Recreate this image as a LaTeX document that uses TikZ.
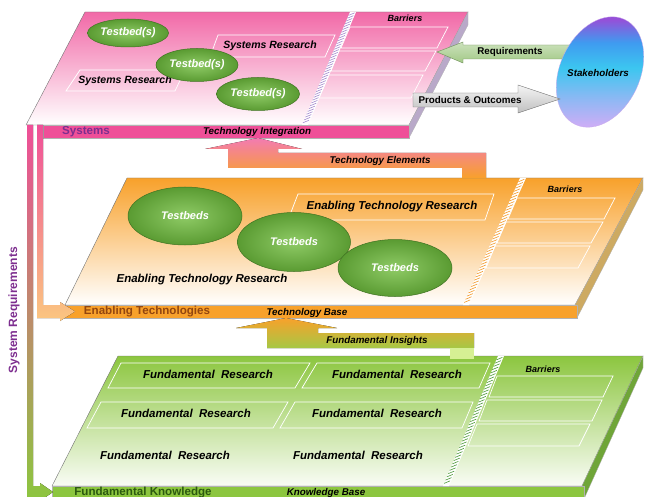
\documentclass[tikz,border=0pt]{standalone}
\usepackage{fontspec}
\setmainfont{Liberation Sans}
\usetikzlibrary{calc,shapes.geometric}

\definecolor{sysPink}{HTML}{EF4F98}
\definecolor{sysSide}{HTML}{B9A9C9}
\definecolor{sysHatch}{HTML}{A48ACF}
\definecolor{enaOrange}{HTML}{F8A12B}
\definecolor{enaLight}{HTML}{FBC680}
\definecolor{enaSide}{HTML}{CDAA62}
\definecolor{enaHatch}{HTML}{F39A2A}
\definecolor{enaText}{HTML}{93460F}
\definecolor{funGreen}{HTML}{8CC63F}
\definecolor{funSide}{HTML}{6FA538}
\definecolor{funHatch}{HTML}{4E9A3A}
\definecolor{funText}{HTML}{2C5A10}
\definecolor{insGreen}{HTML}{A6C845}
\definecolor{insTab}{HTML}{D6F094}
\definecolor{reqTan}{HTML}{DDA27E}
\definecolor{reqPurple}{HTML}{7D2E8F}
\definecolor{reqGreen}{HTML}{A2C986}
\definecolor{reqEdge}{HTML}{6F8F5A}
\definecolor{tbGreen}{HTML}{5A9B32}
\definecolor{tbLight}{HTML}{8FCB66}
\definecolor{tbDark}{HTML}{3F7322}
\definecolor{stakePurple}{HTML}{9550D8}
\definecolor{stakeBlue}{HTML}{3F9BF0}
\definecolor{stakeCyan}{HTML}{3CC6F0}
\definecolor{stakeLav}{HTML}{C9AEF6}

\pgfdeclareverticalshading{stakeshade}{100bp}{color(0bp)=(stakeLav); color(25bp)=(stakeLav);
	color(38bp)=(stakeLav!55!stakeCyan); color(52bp)=(stakeCyan); color(64bp)=(stakeBlue);
	color(75bp)=(stakePurple); color(100bp)=(stakePurple)}

\begin{document}
\begin{tikzpicture}[x=1pt,y=-1pt,
	face/.style={draw=black!55,line width=.4pt},
	band/.style={draw=black!30,line width=.3pt},
	side/.style={draw=black!30,line width=.3pt},
	row/.style={draw=white,line width=.7pt},
	hatch/.style={line width=.6pt},
	testbed/.style={ellipse,draw=tbDark,line width=.5pt,inner color=tbLight,outer color=tbGreen,
		text=white,font=\fontsize{11}{13}\selectfont\bfseries\itshape,inner sep=0pt},
	research/.style={font=\fontsize{11.5}{13}\selectfont\bfseries\itshape},
	barrier/.style={font=\fontsize{9}{10}\selectfont\bfseries\itshape},
	bandtext/.style={font=\fontsize{11.6}{13}\selectfont\bfseries},
	flowtext/.style={font=\fontsize{9.8}{11}\selectfont\bfseries\itshape},
	arrowtext/.style={font=\fontsize{9.8}{11}\selectfont\bfseries}
	]
	\useasboundingbox (0,0) rectangle (645,497);

	% systems plate
	\coordinate (sysTL) at (85,12);
	\coordinate (sysTR) at (468,12);
	\coordinate (sysBR) at (409,125);
	\coordinate (sysBL) at (26,125);
	\draw[face,top color=sysPink!85,middle color=sysPink!22,bottom color=white] (sysTL) -- (sysTR) -- (sysBR) -- (sysBL) -- cycle;
	\draw[side,fill=sysSide] (sysBR) -- (sysTR) -- (468,25) -- (409,138) -- cycle;
	\draw[band,fill=sysPink] (43,125) rectangle (409,138);
	\fill[white] (350,12) -- (356,12) -- (308,125) -- (302,125) -- cycle;
	\foreach \t in {0.03,0.055,...,1}
		\draw[hatch,sysHatch] ($(350,12)!\t!(302,125)$) -- ++(6,-2.5);
	\draw[row] (350,27) -- (448,27) -- (437,48) -- (341,48) -- cycle;
	\draw[row] (339,51) -- (436,51) -- (425,71) -- (331,71) -- cycle;
	\draw[row] (329,75) -- (423,75) -- (411,98) -- (319,98) -- cycle;
	\node[barrier] (sysBar) at (405,18) {Barriers};
	\draw[row] (218,35) -- (335,35) -- (325,57) -- (210,57) -- cycle;
	\draw[row] (80,70) -- (185,70) -- (175,91) -- (66,91) -- cycle;
	\node[research,font=\fontsize{10.5}{12}\selectfont\bfseries\itshape] (sysRes1) at (270,46) {Systems Research};
	\node[research,font=\fontsize{10.5}{12}\selectfont\bfseries\itshape] (sysRes2) at (125,81) {Systems Research};
	\node[testbed,minimum width=81pt,minimum height=28pt] (tbA) at (128,33) {Testbed(s)};
	\node[testbed,minimum width=82pt,minimum height=33pt] (tbB) at (197,65) {Testbed(s)};
	\node[testbed,minimum width=83pt,minimum height=33pt] (tbC) at (258,94) {Testbed(s)};
	\node[bandtext,text=reqPurple] (sysName) at (86,131.5) {Systems};
	\node[flowtext] (sysInt) at (257,131.5) {Technology Integration};

	% enabling technologies plate
	\coordinate (enaTL) at (127,178);
	\coordinate (enaTR) at (643,178);
	\coordinate (enaBR) at (575,305);
	\coordinate (enaBL) at (65,305);
	\draw[face,top color=enaOrange,middle color=enaOrange!28,bottom color=white] (enaTL) -- (enaTR) -- (enaBR) -- (enaBL) -- cycle;
	\draw[side,fill=enaSide] (enaBR) -- (enaTR) -- (643,190) -- (577,318) -- cycle;
	\draw[band,fill=enaOrange] (60,305) rectangle (577,318);
	\fill[white] (520,178) -- (526,178) -- (469,305) -- (463,305) -- cycle;
	\foreach \t in {0.03,0.055,...,1}
		\draw[hatch,enaHatch] ($(520,178)!\t!(463,305)$) -- ++(6,-2.5);
	\draw[row] (517,198) -- (615,198) -- (604,219) -- (508,219) -- cycle;
	\draw[row] (506,222) -- (603,222) -- (591,243) -- (497,243) -- cycle;
	\draw[row] (495,246) -- (590,246) -- (578,268) -- (486,268) -- cycle;
	\node[barrier] (enaBar) at (565,189) {Barriers};
	\draw[row] (298,194) -- (494,194) -- (485,220) -- (288,220) -- cycle;
	\node[research] (enaRes1) at (392,207) {Enabling Technology Research};
	\node[research] (enaRes2) at (202,280) {Enabling Technology Research};
	\node[testbed,minimum width=114pt,minimum height=58pt] (tbD) at (185,216) {Testbeds};
	\node[testbed,minimum width=113pt,minimum height=59pt] (tbE) at (294,242) {Testbeds};
	\node[testbed,minimum width=114pt,minimum height=57pt] (tbF) at (395,268) {Testbeds};
	\node[bandtext,text=enaText] (enaName) at (147,312) {Enabling Technologies};
	\node[flowtext] (enaBase) at (307,312.5) {Technology Base};

	% fundamental knowledge plate
	\coordinate (funTL) at (118,356);
	\coordinate (funTR) at (643,356);
	\coordinate (funBR) at (582,486);
	\coordinate (funBL) at (52,486);
	\draw[face,top color=funGreen,middle color=funGreen!35,bottom color=funGreen!5] (funTL) -- (funTR) -- (funBR) -- (funBL) -- cycle;
	\draw[side,fill=funSide] (funBR) -- (funTR) -- (643,368) -- (584,499) -- cycle;
	\draw[band,fill=funGreen] (52,486) rectangle (584,499);
	\fill[white] (498,356) -- (504,356) -- (449,486) -- (443,486) -- cycle;
	\foreach \t in {0.03,0.055,...,1}
		\draw[hatch,funHatch] ($(498,356)!\t!(443,486)$) -- ++(6,-2.5);
	\draw[row] (497,376) -- (613,376) -- (603,397) -- (489,397) -- cycle;
	\draw[row] (487,400) -- (602,400) -- (592,421) -- (479,421) -- cycle;
	\draw[row] (477,424) -- (590,424) -- (579,446) -- (468,446) -- cycle;
	\node[barrier] (funBar) at (543,369) {Barriers};
	\draw[row] (121,363) -- (310,363) -- (295,388) -- (108,388) -- cycle;
	\draw[row] (317,363) -- (490,363) -- (479,388) -- (302,388) -- cycle;
	\draw[row] (101,402) -- (288,402) -- (273,428) -- (87,428) -- cycle;
	\draw[row] (295,402) -- (473,402) -- (462,428) -- (280,428) -- cycle;
	\node[research] (funResA) at (208,374) {Fundamental\ \ Research};
	\node[research] (funResB) at (397,374) {Fundamental\ \ Research};
	\node[research] (funResC) at (186,413) {Fundamental\ \ Research};
	\node[research] (funResD) at (377,413) {Fundamental\ \ Research};
	\node[research] (funResE) at (165,455) {Fundamental\ \ Research};
	\node[research] (funResF) at (358,455) {Fundamental\ \ Research};
	\node[bandtext,text=funText] (funName) at (143,493) {Fundamental Knowledge};
	\node[flowtext] (funBase) at (326,493) {Knowledge Base};

	% system requirements bars
	\fill[top color=sysPink,middle color=reqTan,bottom color=funGreen]
		(27,125) -- (33,125) -- (33,486) -- (40,486) -- (40,483) -- (53,492) -- (40,501) -- (40,499) -- (27,499) -- cycle;
	\fill[top color=sysPink,bottom color=enaLight]
		(37,125) -- (43,125) -- (43,305) -- (60,305) -- (60,302) -- (75,311.5) -- (60,321) -- (60,318) -- (37,318) -- cycle;
	\node[bandtext,text=reqPurple,rotate=90,font=\fontsize{12}{14}\selectfont\bfseries] (sysReq) at (14,310) {System Requirements};

	% flows between the plates
	\fill[top color=sysPink!75,bottom color=enaOrange]
		(258,138) -- (302,149) -- (278,149) -- (278,153) -- (486,153) -- (486,178) -- (462,178) -- (462,168) -- (228,168) -- (228,149) -- (205,149) -- cycle;
	\node[flowtext] (techEl) at (380,160.5) {Technology Elements};
	\fill[top color=enaOrange,bottom color=insGreen]
		(286,318) -- (337,328) -- (318,328) -- (318,333) -- (474,333) -- (474,348) -- (267,348) -- (267,328) -- (236,328) -- cycle;
	\fill[insTab] (450,348) rectangle (474,359);
	\node[flowtext] (insight) at (377,340.5) {Fundamental Insights};

	% stakeholders
	\draw[draw=reqEdge,line width=.4pt,top color=reqGreen!55!white,bottom color=reqGreen]
		(437,52) -- (463,42) -- (463,45) -- (580,45) -- (580,59) -- (463,59) -- (463,63) -- cycle;
	\begin{scope}[shift={(600,72)},rotate=65]
		\path[draw=stakePurple!50,line width=.3pt,shading=stakeshade] (0,0) ellipse (58pt and 40pt);
	\end{scope}
	\node[arrowtext,font=\fontsize{9.8}{11}\selectfont\bfseries\itshape] (stake) at (598,73) {Stakeholders};
	\node[arrowtext] (req) at (510,52) {Requirements};
	\draw[draw=black!55,line width=.4pt,top color=black!4,bottom color=black!25]
		(413,93) -- (518,93) -- (518,85) -- (560,99) -- (518,113) -- (518,107) -- (413,107) -- cycle;
	\node[arrowtext] (prod) at (470,100) {Products \& Outcomes};
\end{tikzpicture}
\end{document}
